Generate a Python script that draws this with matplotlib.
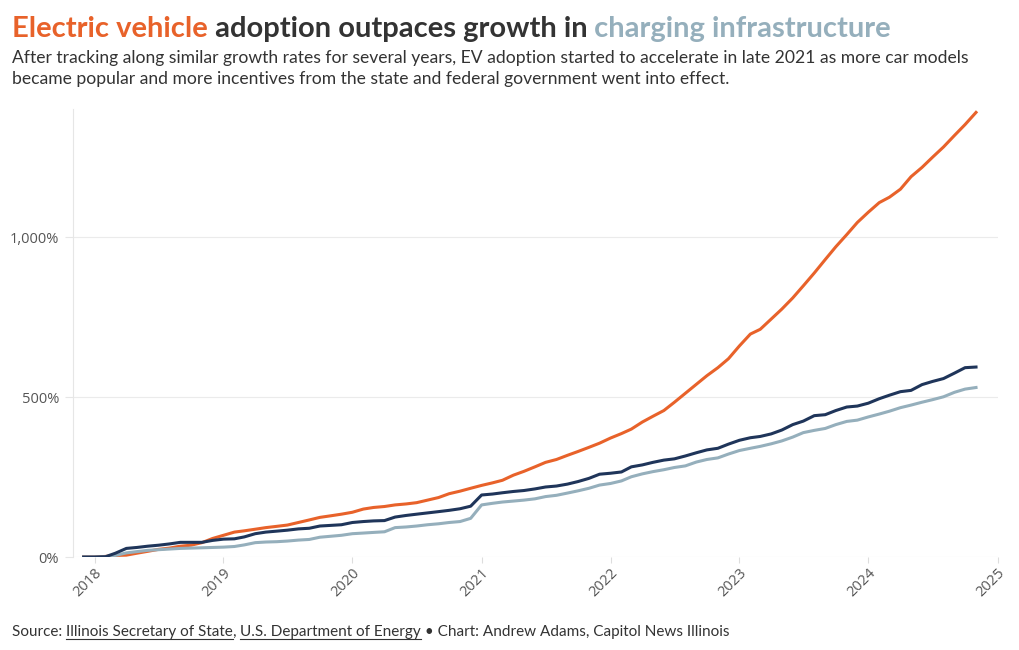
import numpy as np
import pandas as pd
import matplotlib
matplotlib.use("Agg")
import matplotlib.pyplot as plt
import matplotlib.dates as mdates
from matplotlib.ticker import FuncFormatter
from matplotlib.lines import Line2D

# monthly growth since Dec 2017 (percent)
dates = pd.date_range("2017-12-01", periods=84, freq="MS")

ev_growth = [0, 0, 2, 5, 6, 12, 18, 24, 28, 34, 37, 45,
             58, 68, 78, 82, 87, 92, 96, 100, 108, 116, 124, 129,
             134, 140, 150, 155, 158, 163, 166, 170, 178, 186, 198, 206,
             215, 224, 232, 240, 256, 268, 282, 296, 305, 318, 330, 343,
             356, 372, 386, 400, 422, 440, 458, 484, 512, 540, 567, 592,
             620, 660, 697, 712, 744, 775, 810, 848, 888, 930, 970, 1008,
             1046, 1078, 1108, 1125, 1150, 1189, 1218, 1250, 1282, 1318, 1352, 1390]

stations_growth = [0, 0, 1, 12, 27, 30, 34, 37, 41, 46, 46, 46,
                   52, 56, 57, 63, 73, 78, 81, 84, 88, 90, 97, 99,
                   101, 108, 111, 113, 114, 125, 130, 134, 138, 142, 146, 151,
                   159, 194, 197, 201, 205, 208, 213, 219, 222, 228, 236, 246,
                   259, 262, 266, 282, 288, 296, 303, 307, 316, 326, 335, 340,
                   353, 365, 373, 377, 385, 397, 414, 425, 442, 445, 458, 469,
                   472, 481, 495, 506, 517, 521, 539, 549, 558, 575, 592, 594]

ports_growth = [0, 0, 1, 5, 13, 17, 21, 23, 25, 27, 28, 29,
                30, 31, 33, 38, 45, 47, 48, 50, 53, 55, 62, 65,
                68, 73, 75, 77, 79, 92, 94, 97, 101, 104, 108, 111,
                121, 163, 168, 172, 175, 178, 182, 189, 193, 200, 207, 215,
                225, 230, 238, 251, 260, 267, 273, 280, 285, 297, 305, 310,
                322, 333, 340, 346, 354, 363, 375, 389, 396, 402, 414, 424,
                428, 438, 447, 456, 467, 475, 484, 492, 501, 515, 525, 530]

ORANGE = "#e8622a"
NAVY = "#1f355a"
LIGHT = "#95afbc"
DARK = "#333333"
GREY = "#555555"

plt.rcParams['font.family'] = ['Lato', 'DejaVu Sans']

fig = plt.figure(figsize=(10.2, 6.5), dpi=100)
ax = fig.add_axes([0.0716, 0.143, 0.9064, 0.689])

ax.plot(dates, ev_growth, color=ORANGE, lw=2.2, zorder=3)
ax.plot(dates, ports_growth, color=LIGHT, lw=2.2, zorder=4)
ax.plot(dates, stations_growth, color=NAVY, lw=2.2, zorder=5)

ax.set_xlim(pd.Timestamp("2017-11-01"), pd.Timestamp("2025-01-01"))
ax.set_ylim(0, 1400)
ax.set_yticks([0, 500, 1000])
ax.yaxis.set_major_formatter(FuncFormatter(lambda v, p: "{:,.0f}%".format(v)))
ax.xaxis.set_major_locator(mdates.YearLocator())
ax.xaxis.set_major_formatter(mdates.DateFormatter("%Y"))

ax.grid(axis="y", color="#ebebeb", lw=0.8, zorder=0)
for s in ["top", "right", "bottom"]:
    ax.spines[s].set_visible(False)
ax.spines["left"].set_color("#e6e6e6")
ax.tick_params(axis="y", length=6, color="#e6e6e6", labelsize=10.5,
               labelcolor=GREY, pad=4)
ax.tick_params(axis="x", length=4, color="#dddddd", labelsize=10.5,
               labelcolor=GREY, pad=2)
for lab in ax.get_yticklabels() + ax.get_xticklabels():
    lab.set_family(['Open Sans', 'DejaVu Sans'])
plt.setp(ax.get_xticklabels(), rotation=45, ha="right", rotation_mode="anchor")

# multi-coloured title
t = fig.text(12 / 1020, 1 - 37 / 650, "Electric vehicle", color=ORANGE,
             fontsize=21, fontweight="bold", va="baseline")
t = ax.annotate(" adoption outpaces growth in", xy=(1, 0), xycoords=t,
                color=DARK, fontsize=21, fontweight="bold", va="bottom")
ax.annotate(" charging infrastructure", xy=(1, 0), xycoords=t,
            color=LIGHT, fontsize=21, fontweight="bold", va="bottom")

fig.text(12 / 1020, 1 - 50 / 650,
         "After tracking along similar growth rates for several years, EV adoption "
         "started to accelerate in late 2021 as more car models\n"
         "became popular and more incentives from the state and federal government "
         "went into effect.",
         color=DARK, fontsize=12.6, va="top", linespacing=1.4)

# source line with underlined links
pieces = [("Source: ", False), ("Illinois Secretary of State", True), (", ", False),
          ("U.S. Department of Energy", True),
          (" \u2022 Chart: Andrew Adams, Capitol News Illinois", False)]
fig.canvas.draw()
renderer = fig.canvas.get_renderer()
x0 = 12 / 1020
y0 = 1 - 636 / 650
prev = None
for txt, underline in pieces:
    if prev is None:
        tt = fig.text(x0, y0, txt, color=DARK, fontsize=11, va="baseline")
    else:
        tt = fig.text(0, 0, txt, color=DARK, fontsize=11, va="baseline")
        bb = prev.get_window_extent(renderer)
        tt.set_position((bb.x1 / fig.bbox.width, y0))
    bb = tt.get_window_extent(renderer)
    if underline:
        yl = y0 - 2.5 / 650
        fig.add_artist(Line2D([bb.x0 / fig.bbox.width, bb.x1 / fig.bbox.width],
                              [yl, yl], color=DARK, lw=0.8))
    prev = tt

fig.savefig("out.png", dpi=100, facecolor="white")
